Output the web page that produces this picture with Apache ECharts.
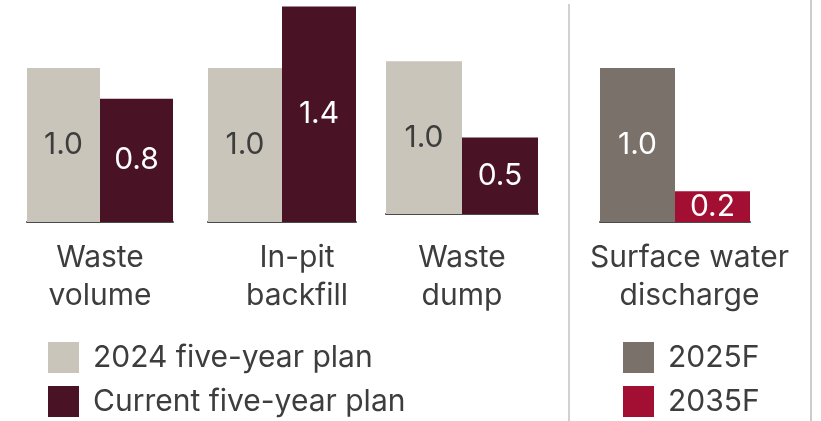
<!DOCTYPE html>
<html>
<head>
<meta charset="utf-8">
<script src="https://cdn.jsdelivr.net/npm/echarts@6/dist/echarts.min.js"></script>
<style>
html,body{margin:0;padding:0;background:#fff;}
#chart{width:821px;height:421px;}
</style>
</head>
<body>
<div id="chart"></div>
<script>
// ---- data ----
var planCategories = ['Waste\nvolume', 'In-pit\nbackfill', 'Waste\ndump'];
var plan2024 = [1.0, 1.0, 1.0];
var planCurrent = [0.8, 1.4, 0.5];
var waterCategories = ['Surface water\ndischarge'];
var water2025 = [1.0];
var water2035 = [0.2];
var planNames = ['2024 five-year plan', 'Current five-year plan'];
var waterNames = ['2025F', '2035F'];

// ---- style ----
var FONT = 'Inter';
var FS = 30;
var C_LIGHT = '#C9C5BA', C_DARK = '#4A1325', C_GRAY = '#7B716B', C_RED = '#A30F33';
var TXT = '#3d3d3d';
var PX_PER_UNIT = 154;

var gridDefs = [
  {left: 27, width: 146, bottom: 222, max: 1.4, labelPad: 0, margin: 17},
  {left: 208, width: 148, bottom: 222, max: 1.4, labelPad: 30, margin: 17},
  {left: 386, width: 152, bottom: 214, max: 1.4, labelPad: 0, margin: 25},
  {left: 600, width: 150, bottom: 222, max: 1.4, labelPad: 29, margin: 17}
];
var groups = [
  {cat: planCategories[0], a: plan2024[0], b: planCurrent[0], na: planNames[0], nb: planNames[1], ca: C_LIGHT, cb: C_DARK, la: TXT, lb: '#fff'},
  {cat: planCategories[1], a: plan2024[1], b: planCurrent[1], na: planNames[0], nb: planNames[1], ca: C_LIGHT, cb: C_DARK, la: TXT, lb: '#fff'},
  {cat: planCategories[2], a: plan2024[2], b: planCurrent[2], na: planNames[0], nb: planNames[1], ca: C_LIGHT, cb: C_DARK, la: TXT, lb: '#fff'},
  {cat: waterCategories[0], a: water2025[0], b: water2035[0], na: waterNames[0], nb: waterNames[1], ca: C_GRAY, cb: C_RED, la: '#fff', lb: '#fff'}
];

var grids = [], xAxes = [], yAxes = [], series = [];
gridDefs.forEach(function (g, i) {
  var h = g.max * PX_PER_UNIT;
  grids.push({left: g.left, width: g.width, top: g.bottom - h, height: h, containLabel: false});
  xAxes.push({
    type: 'category', gridIndex: i, data: [groups[i].cat],
    axisLine: {show: true, lineStyle: {color: '#4a4a4a', width: 2}},
    axisTick: {show: false},
    axisLabel: {
      color: TXT, fontFamily: FONT, fontSize: FS, lineHeight: 38, margin: g.margin,
      padding: [0, 0, 0, g.labelPad]
    }
  });
  yAxes.push({
    type: 'value', gridIndex: i, min: 0, max: g.max,
    show: false, splitLine: {show: false}
  });
  var bw = g.width / 2;
  var lab = function (c) {
    return {show: true, position: 'inside', color: c, fontFamily: FONT, fontSize: FS,
      formatter: function (p) { return p.value.toFixed(1); }};
  };
  series.push({
    type: 'bar', name: groups[i].na, xAxisIndex: i, yAxisIndex: i,
    data: [groups[i].a], barWidth: bw, barGap: '0%',
    itemStyle: {color: groups[i].ca}, label: lab(groups[i].la), silent: true
  });
  series.push({
    type: 'bar', name: groups[i].nb, xAxisIndex: i, yAxisIndex: i,
    data: [groups[i].b], barWidth: bw, barGap: '0%',
    itemStyle: {color: groups[i].cb}, label: lab(groups[i].lb), silent: true
  });
});

function makeLegend(left, names) {
  return {
    orient: 'vertical', left: left, top: 342, width: 400, height: 120, padding: 0,
    itemWidth: 31, itemHeight: 31, itemGap: 13,
    icon: 'rect', selectedMode: false, data: names,
    textStyle: {color: TXT, fontFamily: FONT, fontSize: FS, lineHeight: 31, padding: [0, 0, 0, 9]}
  };
}

var option = {
  animation: false,
  backgroundColor: '#fff',
  grid: grids,
  xAxis: xAxes,
  yAxis: yAxes,
  legend: [makeLegend(48, planNames), makeLegend(623, waterNames)],
  graphic: [
    {type: 'line', shape: {x1: 569, y1: 4, x2: 569, y2: 421}, style: {stroke: '#d4d0d2', lineWidth: 2}, silent: true},
    {type: 'line', shape: {x1: 811, y1: 0, x2: 811, y2: 421}, style: {stroke: '#cfcacc', lineWidth: 2}, silent: true}
  ],
  series: series
};

var chart = echarts.init(document.getElementById('chart'), null, {renderer: 'canvas'});
chart.setOption(option);
</script>
</body>
</html>
